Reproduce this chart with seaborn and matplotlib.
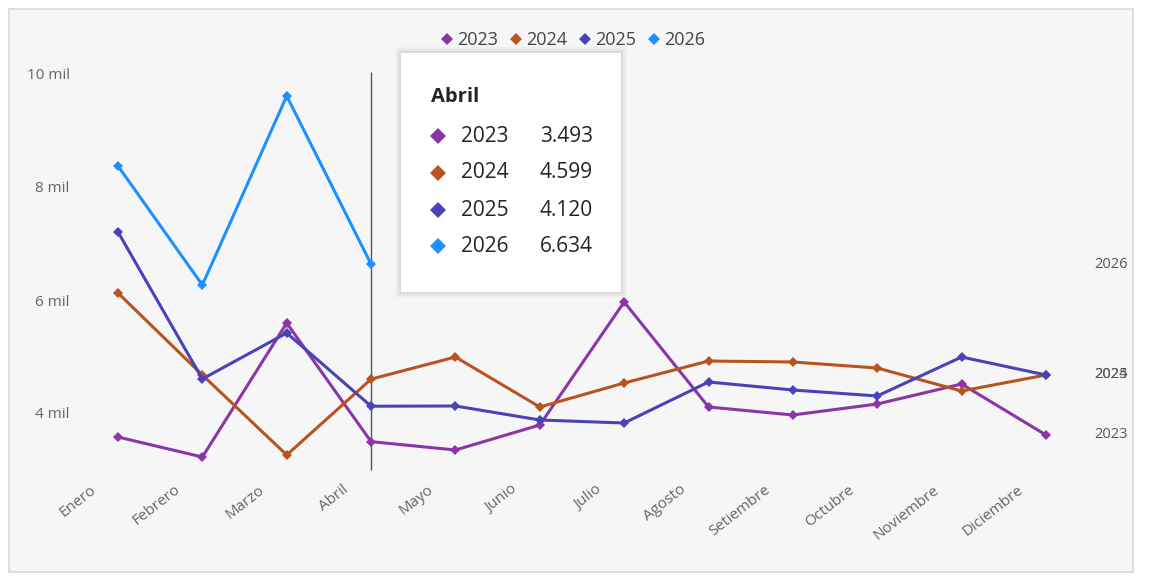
import matplotlib
matplotlib.use("Agg")
import matplotlib.pyplot as plt
from matplotlib.lines import Line2D
from matplotlib.patches import FancyBboxPatch, Rectangle
from matplotlib.transforms import ScaledTranslation, blended_transform_factory
import numpy as np
import pandas as pd
import seaborn as sns

# ---- data -------------------------------------------------------------
months = ["Enero", "Febrero", "Marzo", "Abril", "Mayo", "Junio", "Julio",
          "Agosto", "Setiembre", "Octubre", "Noviembre", "Diciembre"]
years = ["2023", "2024", "2025", "2026"]
v2023 = [3575, 3221, 5593, 3493, 3345, 3788, 5965, 4106, 3965, 4159, 4513, 3611]
v2024 = [6124, 4673, 3257, 4599, 4991, 4106, 4531, 4920, 4903, 4796, 4389, 4673]
v2025 = [7204, 4602, 5416, 4120, 4124, 3876, 3823, 4549, 4407, 4301, 4991, 4673]
v2026 = [8372, 6265, 9611, 6634]
yticks = [4000, 6000, 8000, 10000]
ytick_labels = ["4 mil", "6 mil", "8 mil", "10 mil"]
hover_month = "Abril"

colors = {"2023": "#8A36A6", "2024": "#B9531F", "2025": "#4A42B8", "2026": "#1E90FF"}
series = {"2023": v2023, "2024": v2024, "2025": v2025, "2026": v2026}

rows = []
for yr, vals in series.items():
    for i, v in enumerate(vals):
        rows.append({"idx": i, "mes": months[i], "año": yr, "valor": v})
df = pd.DataFrame(rows)

# ---- figure -----------------------------------------------------------
W, H = 1152, 578
sns.set_theme(style="white")
plt.rcParams["font.family"] = ["Open Sans", "DejaVu Sans"]

fig = plt.figure(figsize=(W / 100, H / 100), dpi=100)
fig.patch.set_facecolor("white")


def fx(x):
    return x / W


def fy(y):
    return 1 - y / H


# card background
fig.patches.append(Rectangle((fx(9), fy(572)), fx(1133) - fx(9), fy(9) - fy(572),
                             transform=fig.transFigure, facecolor="#f6f6f6",
                             edgecolor="#d9d9d9", linewidth=1.2, zorder=-5))

left, right, top, bottom = 85, 1080, 60, 480
ax = fig.add_axes([fx(left), fy(bottom), fx(right) - fx(left), fy(top) - fy(bottom)])
ax.set_facecolor("none")

sns.lineplot(data=df, x="idx", y="valor", hue="año", palette=colors,
             marker="D", markersize=5, markeredgewidth=0, linewidth=2.2,
             ax=ax, legend=False, sort=False)

# pixel-to-data mapping: months spaced 84.36 px, first at x=118
step = 84.36
ax.set_xlim((left - 118) / step, (right - 118) / step)
ppu = 0.0565  # pixels per unit value
ax.set_ylim(4000 - (bottom - 413) / ppu, 4000 + (413 - top) / ppu)

for s in ax.spines.values():
    s.set_visible(False)

ax.set_yticks(yticks)
ax.set_yticklabels(ytick_labels)
ax.set_xticks(range(len(months)))
ax.set_xticklabels(months)
ax.tick_params(axis="y", length=0, pad=11, labelsize=11, labelcolor="#666666")
ax.tick_params(axis="x", length=0, pad=3, labelsize=11, labelcolor="#666666")
ax.set_xlabel("")
ax.set_ylabel("")
for lab in ax.get_xticklabels():
    lab.set_rotation(38)
    lab.set_ha("right")
    lab.set_va("center")
    lab.set_rotation_mode("anchor")
    lab.set_transform(lab.get_transform() + ScaledTranslation(-24 / 100, -4 / 100, fig.dpi_scale_trans))

# hover line at the selected month
hi = months.index(hover_month)
ax.vlines(hi, 4000 - (470 - 413) / ppu, 4000 + (413 - 72) / ppu,
          color="#555555", linewidth=1.0, zorder=1)

# end-of-series labels on the right
trans = blended_transform_factory(fig.transFigure, ax.transData)
for yr in years:
    ax.text(fx(1128), series[yr][-1], yr, transform=trans, ha="right", va="center",
            fontsize=10.5, color="#555555", clip_on=False)

# legend
handles = [Line2D([], [], marker="D", linestyle="none", markersize=6.5,
                  markerfacecolor=colors[y], markeredgewidth=0) for y in years]
fig.legend(handles, years, loc="center", bbox_to_anchor=(fx(571), fy(40)), ncol=4,
           frameon=False, handletextpad=0.0, columnspacing=0.45, handlelength=1.1,
           fontsize=13, labelcolor="#444444")

# tooltip
tx0, ty0, tx1, ty1 = 401, 53, 621, 292
for k, a in [(6, 0.025), (4, 0.035), (2, 0.05)]:
    fig.patches.append(FancyBboxPatch((fx(tx0 - k), fy(ty1 + k)), fx(tx1 + k) - fx(tx0 - k),
                                      fy(ty0 - k) - fy(ty1 + k), boxstyle="square,pad=0",
                                      transform=fig.transFigure, facecolor="black", alpha=a,
                                      edgecolor="none", zorder=5))
fig.patches.append(FancyBboxPatch((fx(tx0), fy(ty1)), fx(tx1) - fx(tx0), fy(ty0) - fy(ty1),
                                  boxstyle="square,pad=0", transform=fig.transFigure,
                                  facecolor="white", edgecolor="none", zorder=6))
fig.text(fx(431), fy(97), hover_month, fontsize=14.5, fontweight="bold", color="#252423",
         ha="left", va="center", zorder=7)
row_y = [136, 173, 210, 246]
for yr, ry in zip(years, row_y):
    fig.lines.append(Line2D([fx(438)], [fy(ry)], transform=fig.transFigure, marker="D",
                            markersize=8.5, markeredgewidth=0, color=colors[yr], zorder=7))
    fig.text(fx(461), fy(ry), yr, fontsize=15, color="#252423", ha="left", va="center", zorder=7)
    val = series[yr][hi]
    fig.text(fx(593), fy(ry), f"{val:,}".replace(",", "."), fontsize=15, color="#252423",
             ha="right", va="center", zorder=7)

fig.savefig("out.png", dpi=100)
